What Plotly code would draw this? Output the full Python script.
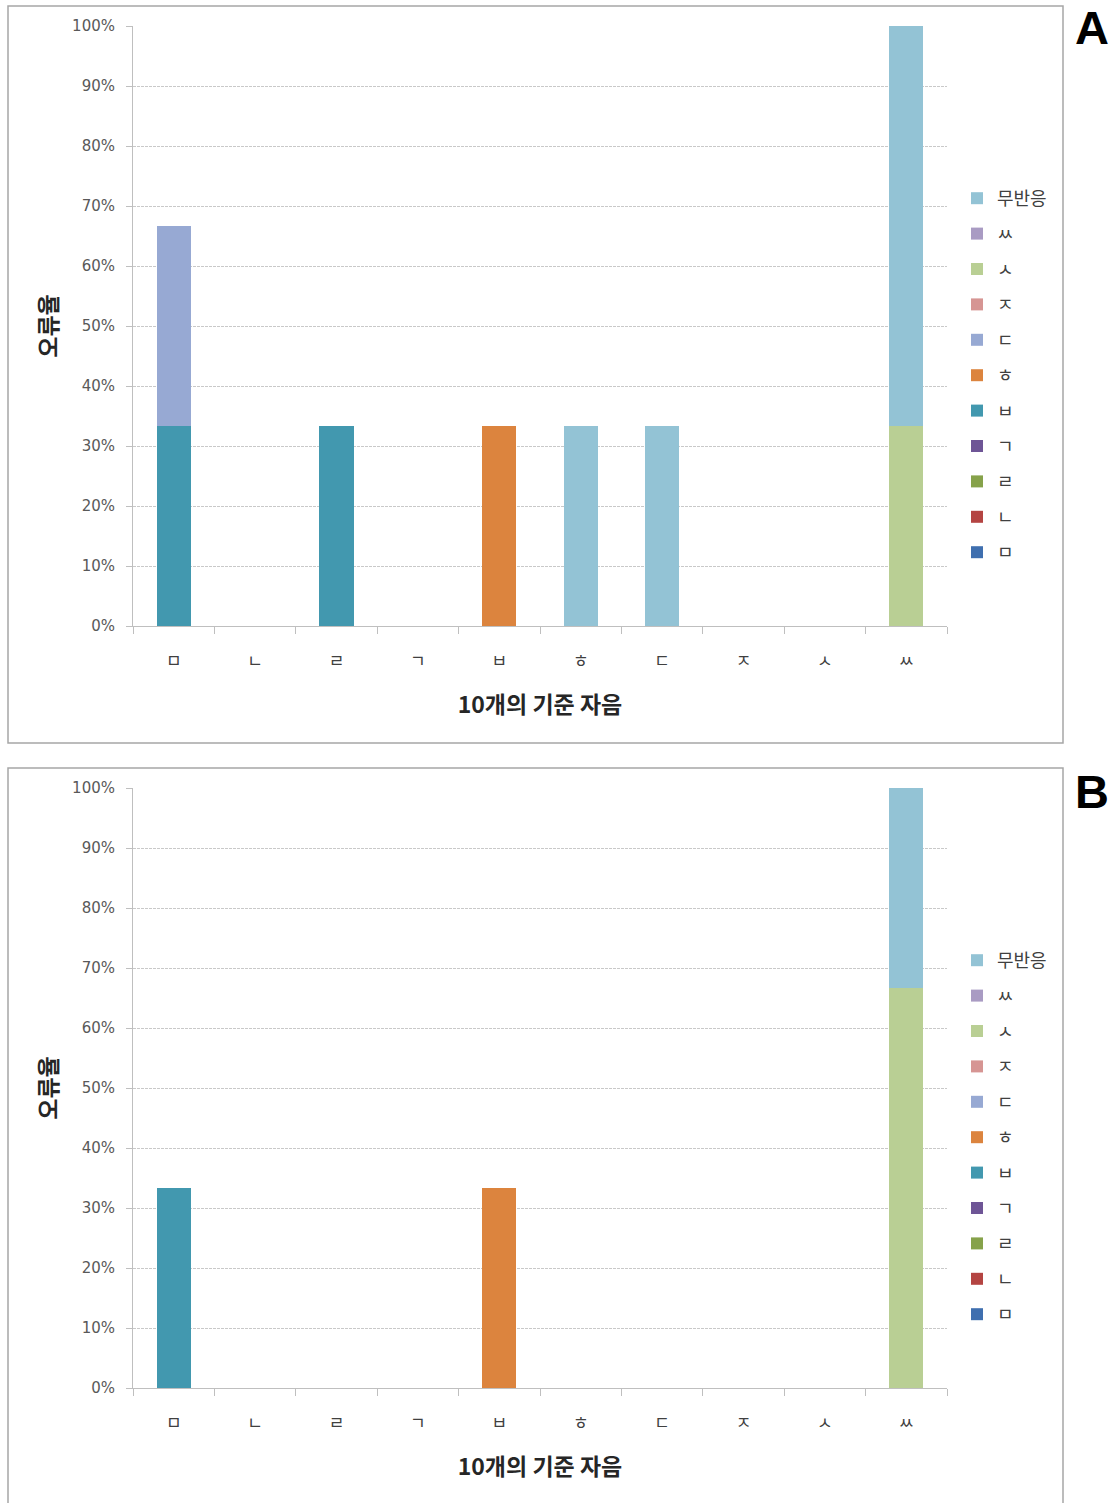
import plotly.graph_objects as go

# Ten reference consonants on the x axis
categories = ["ㅁ", "ㄴ", "ㄹ", "ㄱ", "ㅂ", "ㅎ", "ㄷ", "ㅈ", "ㅅ", "ㅆ"]

# Response categories (stack order, bottom to top)
series_names = ["ㅁ", "ㄴ", "ㄹ", "ㄱ", "ㅂ", "ㅎ", "ㄷ", "ㅈ", "ㅅ", "ㅆ", "무반응"]
series_colors = ["#3F6FAF", "#B44442", "#86A24A", "#6E5596", "#4298AF", "#DC843E",
                 "#97A9D3", "#D69593", "#B9CF94", "#A99BC3", "#93C3D5"]

# Y axis ticks
y_tickvals = [0, 10, 20, 30, 40, 50, 60, 70, 80, 90, 100]
y_ticktext = ["0%", "10%", "20%", "30%", "40%", "50%", "60%", "70%", "80%", "90%", "100%"]

# Panel A error rates (%)
a_bieup = [33.3, 0, 33.3, 0, 0, 0, 0, 0, 0, 0]
a_hieut = [0, 0, 0, 0, 33.3, 0, 0, 0, 0, 0]
a_digeut = [33.3, 0, 0, 0, 0, 0, 0, 0, 0, 0]
a_siot = [0, 0, 0, 0, 0, 0, 0, 0, 0, 33.3]
a_no_response = [0, 0, 0, 0, 0, 33.3, 33.3, 0, 0, 66.7]

# Panel B error rates (%)
b_bieup = [33.3, 0, 0, 0, 0, 0, 0, 0, 0, 0]
b_hieut = [0, 0, 0, 0, 33.3, 0, 0, 0, 0, 0]
b_siot = [0, 0, 0, 0, 0, 0, 0, 0, 0, 66.7]
b_no_response = [0, 0, 0, 0, 0, 0, 0, 0, 0, 33.3]

zeros = [0] * len(categories)
panel_a = {"ㅂ": a_bieup, "ㅎ": a_hieut, "ㄷ": a_digeut, "ㅅ": a_siot, "무반응": a_no_response}
panel_b = {"ㅂ": b_bieup, "ㅎ": b_hieut, "ㅅ": b_siot, "무반응": b_no_response}

W, H = 1115, 1503


def px_x(p):
    return p / W


def px_y(p):
    return 1 - p / H


fig = go.Figure()

n = len(series_names)
for panel, xa, ya, leg in [(panel_a, "x", "y", "legend"), (panel_b, "x2", "y2", "legend2")]:
    for i, (name, color) in enumerate(zip(series_names, series_colors)):
        fig.add_trace(go.Bar(
            x=categories, y=panel.get(name, zeros), name=name,
            marker=dict(color=color, line=dict(width=0)),
            xaxis=xa, yaxis=ya, legend=leg, legendgroup=leg + name,
            legendrank=100 + (n - i),
            hovertemplate="%{x}: %{y}%<extra>" + name + "</extra>",
        ))

tick_font = dict(family="DejaVu Sans", size=15, color="#595959")
title_font = dict(family="Noto Sans CJK KR", size=23, color="#262626")
grid = dict(showgrid=True, gridcolor="#C9C9C9", griddash="3px,1px", gridwidth=1)

x_dom = [px_x(133), px_x(947)]
y_axis_common = dict(
    range=[0, 100], tickmode="array", tickvals=y_tickvals, ticktext=y_ticktext,
    showline=True, linecolor="#BFBFBF", linewidth=1,
    ticks="outside", ticklen=6, tickcolor="#BFBFBF",
    tickfont=tick_font, ticklabelstandoff=8,
    title=dict(text="<b>오류율</b>", font=title_font, standoff=8),
    zeroline=False, automargin=False, **grid,
)
x_axis_common = dict(
    showline=True, linecolor="#BFBFBF", linewidth=1,
    ticks="outside", ticklen=7, tickcolor="#BFBFBF", tickson="boundaries",
    tickfont=dict(family="Noto Sans CJK KR", size=17, color="#404040"),
    ticklabelstandoff=20,
    title=dict(text="<b>10개의 기준 자음</b>", font=title_font, standoff=25),
    showgrid=False, automargin=False,
)

legend_common = dict(
    traceorder="grouped", tracegroupgap=9,
    font=dict(family="Noto Sans CJK KR", size=18, color="#404040"),
    bgcolor="rgba(0,0,0,0)", xanchor="left", yanchor="top",
    itemwidth=30,
)

fig.update_layout(
    width=W, height=H, margin=dict(l=0, r=0, t=0, b=0, autoexpand=False),
    paper_bgcolor="white", plot_bgcolor="white",
    barmode="stack", bargap=0.58,
    showlegend=True,
    xaxis=dict(domain=x_dom, anchor="y", **x_axis_common),
    yaxis=dict(domain=[px_y(626), px_y(26)], anchor="x", **y_axis_common),
    xaxis2=dict(domain=x_dom, anchor="y2", **x_axis_common),
    yaxis2=dict(domain=[px_y(1388), px_y(788)], anchor="x2", **y_axis_common),
    legend=dict(x=px_x(957), y=px_y(180), **legend_common),
    legend2=dict(x=px_x(957), y=px_y(942), **legend_common),
)

# Panel frames
frame = dict(type="rect", xref="paper", yref="paper",
             line=dict(color="#A6A6A6", width=1.5), fillcolor="rgba(0,0,0,0)", layer="below")
fig.add_shape(x0=px_x(8), x1=px_x(1063), y0=px_y(743), y1=px_y(6), **frame)
fig.add_shape(x0=px_x(8), x1=px_x(1063), y0=px_y(1510), y1=px_y(768), **frame)

# Panel letters
for letter, ypix in [("A", 27), ("B", 791)]:
    fig.add_annotation(
        text="<b>" + letter + "</b>", xref="paper", yref="paper",
        x=px_x(1092), y=px_y(ypix), xanchor="center", yanchor="middle",
        showarrow=False, font=dict(family="Liberation Sans", size=47, color="black"),
    )

fig.write_html("out.html")
